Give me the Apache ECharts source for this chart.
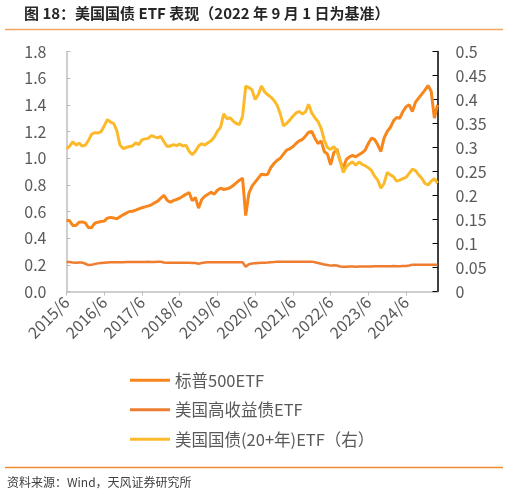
<!DOCTYPE html>
<html>
<head>
<meta charset="utf-8">
<script src="https://cdn.jsdelivr.net/npm/echarts@6/dist/echarts.min.js"></script>
<style>
  html, body { margin: 0; padding: 0; background: #fff; }
  #main { width: 508px; height: 497px; }
</style>
</head>
<body>
<div id="main"></div>
<script>
// 月度数据，2015/6 起
var startYear = 2015, startMonth = 6;
var seriesNames = ['标普500ETF', '美国高收益债ETF', '美国国债(20+年)ETF（右）'];

// 标普500ETF（左轴）
var spx = [
  0.535, 0.530, 0.495, 0.495, 0.520, 0.522, 0.515, 0.478, 0.480, 0.512, 0.520, 0.525,
  0.528, 0.550, 0.556, 0.552, 0.545, 0.560, 0.575, 0.588, 0.600, 0.602, 0.610, 0.620,
  0.628, 0.635, 0.642, 0.650, 0.665, 0.678, 0.700, 0.722, 0.685, 0.670, 0.682, 0.690,
  0.700, 0.715, 0.728, 0.742, 0.680, 0.705, 0.625, 0.690, 0.715, 0.730, 0.745, 0.730,
  0.760, 0.775, 0.765, 0.770, 0.778, 0.795, 0.815, 0.835, 0.850, 0.570, 0.735, 0.790,
  0.820, 0.850, 0.880, 0.875, 0.880, 0.930, 0.960, 0.985, 1.000, 1.030, 1.060, 1.070,
  1.085, 1.110, 1.130, 1.140, 1.165, 1.195, 1.200, 1.150, 1.110, 1.130, 1.050, 1.030,
  0.950, 1.040, 1.070, 0.980, 0.920, 0.990, 1.010, 1.020, 1.010, 1.025, 1.040, 1.060,
  1.110, 1.150, 1.140, 1.100, 1.050, 1.150, 1.200, 1.230, 1.280, 1.305, 1.300, 1.350,
  1.385, 1.400, 1.350, 1.420, 1.450, 1.480, 1.510, 1.545, 1.500, 1.300, 1.400
];

// 美国高收益债ETF（左轴）
var hy = [
  0.222, 0.221, 0.218, 0.216, 0.218, 0.217, 0.208, 0.198, 0.200, 0.207, 0.211, 0.214,
  0.216, 0.218, 0.219, 0.220, 0.219, 0.219, 0.220, 0.221, 0.222, 0.222, 0.222, 0.221,
  0.222, 0.222, 0.223, 0.222, 0.222, 0.223, 0.223, 0.218, 0.216, 0.215, 0.215, 0.215,
  0.215, 0.215, 0.215, 0.215, 0.214, 0.214, 0.208, 0.214, 0.217, 0.220, 0.220, 0.220,
  0.220, 0.220, 0.220, 0.220, 0.220, 0.220, 0.220, 0.220, 0.220, 0.186, 0.205, 0.210,
  0.212, 0.214, 0.216, 0.216, 0.217, 0.219, 0.221, 0.224, 0.224, 0.224, 0.224, 0.224,
  0.224, 0.224, 0.224, 0.224, 0.224, 0.224, 0.224, 0.220, 0.214, 0.208, 0.202, 0.198,
  0.194, 0.197, 0.195, 0.188, 0.185, 0.186, 0.187, 0.187, 0.186, 0.187, 0.188, 0.187,
  0.188, 0.188, 0.190, 0.190, 0.189, 0.190, 0.190, 0.190, 0.191, 0.190, 0.190, 0.191,
  0.192, 0.195, 0.200, 0.200, 0.200, 0.200, 0.200, 0.200, 0.200, 0.200, 0.200
];

// 美国国债(20+年)ETF（右轴）
var tlt = [
  0.297, 0.303, 0.312, 0.305, 0.309, 0.303, 0.305, 0.315, 0.328, 0.331, 0.330, 0.333,
  0.345, 0.358, 0.353, 0.350, 0.335, 0.305, 0.298, 0.300, 0.302, 0.303, 0.310, 0.306,
  0.316, 0.318, 0.319, 0.325, 0.322, 0.320, 0.323, 0.312, 0.302, 0.303, 0.306, 0.304,
  0.307, 0.303, 0.305, 0.292, 0.285, 0.292, 0.303, 0.308, 0.305, 0.310, 0.314, 0.322,
  0.334, 0.342, 0.370, 0.360, 0.362, 0.355, 0.350, 0.348, 0.365, 0.428, 0.425, 0.420,
  0.400, 0.410, 0.428, 0.416, 0.410, 0.405, 0.398, 0.388, 0.370, 0.345, 0.350, 0.357,
  0.365, 0.372, 0.375, 0.370, 0.374, 0.390, 0.372, 0.362, 0.354, 0.340, 0.315, 0.300,
  0.296, 0.302, 0.292, 0.274, 0.248, 0.260, 0.266, 0.270, 0.263, 0.270, 0.265, 0.262,
  0.258, 0.252, 0.240, 0.232, 0.215, 0.225, 0.248, 0.243, 0.239, 0.230, 0.232, 0.235,
  0.238, 0.246, 0.255, 0.252, 0.243, 0.236, 0.225, 0.222, 0.230, 0.235, 0.226
];

var months = [];
for (var i = 0; i < spx.length; i++) {
  var t = startMonth - 1 + i;
  months.push((startYear + Math.floor(t / 12)) + '/' + (t % 12 + 1));
}

var myChart = echarts.init(document.getElementById('main'));
var font = '"Noto Sans CJK SC", "Noto Sans", sans-serif';

var option = {
  animation: false,
  backgroundColor: '#fff',
  textStyle: { fontFamily: font },
  graphic: [
    { type: 'text', left: 24, top: 6, style: { text: '图 18：美国国债 ETF 表现（2022 年 9 月 1 日为基准）', fontSize: 15, fontWeight: 'bold', fill: '#262626', fontFamily: font } },
    { type: 'line', shape: { x1: 5, y1: 29.5, x2: 503, y2: 29.5 }, style: { stroke: '#F4A65E', lineWidth: 1.5 } },
    { type: 'line', shape: { x1: 5, y1: 467.5, x2: 503, y2: 467.5 }, style: { stroke: '#F08A32', lineWidth: 1.5 } },
    { type: 'text', left: 7, top: 476, style: { text: '资料来源：Wind，天风证券研究所', fontSize: 12, fill: '#404040', fontFamily: font } }
  ],
  legend: {
    orient: 'vertical',
    left: 125,
    top: 367,
    itemWidth: 40,
    itemHeight: 3,
    itemGap: 13,
    icon: 'rect',
    data: seriesNames,
    textStyle: { fontSize: 16.5, color: '#595959', fontFamily: font }
  },
  grid: { left: 66.5, right: 70.5, top: 51.5, bottom: 205.5, containLabel: false },
  xAxis: {
    type: 'category',
    data: months,
    boundaryGap: false,
    axisLine: { lineStyle: { color: '#BFBFBF', width: 1.5 } },
    axisTick: { interval: 11, length: 4, lineStyle: { color: '#BFBFBF' } },
    axisLabel: { interval: 11, rotate: 45, fontSize: 16, color: '#595959', margin: 8 },
    splitLine: { show: false }
  },
  yAxis: [
    {
      type: 'value', min: 0, max: 1.8, interval: 0.2,
      axisLine: { show: true, lineStyle: { color: '#BFBFBF', width: 1.5 } },
      axisTick: { show: true, inside: true, length: 4, lineStyle: { color: '#BFBFBF' } },
      splitLine: { show: false },
      axisLabel: { fontSize: 16, color: '#595959', margin: 20, formatter: function (v) { return v.toFixed(1); } }
    },
    {
      type: 'value', position: 'right', min: 0, max: 0.5, interval: 0.05,
      axisLine: { show: true, lineStyle: { color: '#000', width: 1.5 } },
      axisTick: { show: true, inside: true, length: 5, lineStyle: { color: '#000' } },
      splitLine: { show: false },
      axisLabel: { fontSize: 16, color: '#595959', margin: 18, formatter: function (v) { return String(parseFloat(v.toFixed(2))); } }
    }
  ],
  series: [
    { name: seriesNames[0], type: 'line', data: spx, yAxisIndex: 0, showSymbol: false, color: '#F7861C', lineStyle: { width: 3 } },
    { name: seriesNames[1], type: 'line', data: hy, yAxisIndex: 0, showSymbol: false, color: '#EE7D31', lineStyle: { width: 2.5 } },
    { name: seriesNames[2], type: 'line', data: tlt, yAxisIndex: 1, showSymbol: false, color: '#FCBA2A', lineStyle: { width: 3 } }
  ]
};

myChart.setOption(option);
</script>
</body>
</html>
